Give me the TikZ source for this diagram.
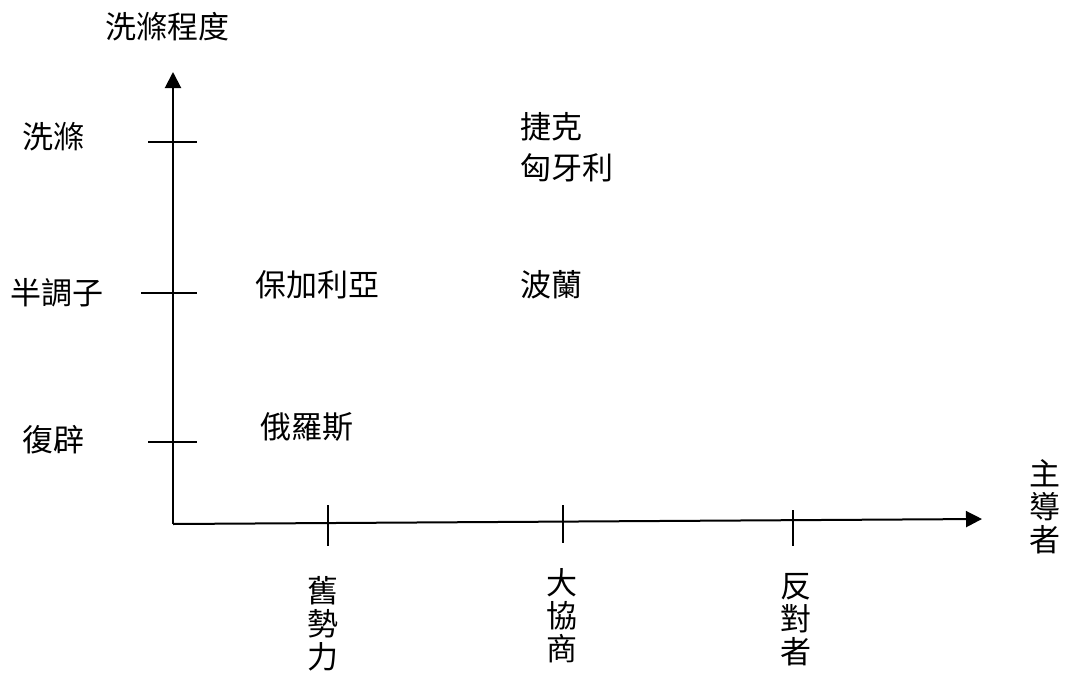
\documentclass[tikz,border=0pt]{standalone}
\usepackage{fontspec}
\newfontfamily\cjk{Noto Sans CJK TC}
\usetikzlibrary{arrows.meta}
\begin{document}
\begin{tikzpicture}[x=1pt,y=-1pt,
  lbl/.style={font=\cjk\fontsize{31}{33}\selectfont,inner sep=0pt,outer sep=0pt},
  vlbl/.style={lbl,align=center,anchor=north},
  axis/.style={line width=2pt,-{Triangle[width=16pt,length=16pt]}},
  tick/.style={line width=1.6pt}]
\useasboundingbox (0,0) rectangle (1066,675);
\coordinate (o) at (173,524);
\coordinate (ytip) at (173,72);
\coordinate (xtip) at (982,519);
\draw[axis] (o) -- (ytip);
\draw[axis] (o) -- (xtip);
% y ticks
\coordinate (t1a) at (148,142); \coordinate (t1b) at (197,142);
\coordinate (t2a) at (141,293); \coordinate (t2b) at (197,293);
\coordinate (t3a) at (148,442); \coordinate (t3b) at (197,442);
\draw[tick] (t1a) -- (t1b);
\draw[tick] (t2a) -- (t2b);
\draw[tick] (t3a) -- (t3b);
% x ticks
\coordinate (u1a) at (328,505); \coordinate (u1b) at (328,546);
\coordinate (u2a) at (563,505); \coordinate (u2b) at (563,543);
\coordinate (u3a) at (793,510); \coordinate (u3b) at (793,546);
\draw[tick] (u1a) -- (u1b);
\draw[tick] (u2a) -- (u2b);
\draw[tick] (u3a) -- (u3b);
% labels
\node[lbl,anchor=west] (title) at (105,27) {洗滌程度};
\node[lbl,anchor=west] (y1) at (23,137) {洗滌};
\node[lbl,anchor=west] (y2) at (10,293) {半調子};
\node[lbl,anchor=west] (y3) at (23,440) {復辟};
\node[lbl,anchor=west] (cz) at (520,127) {捷克};
\node[lbl,anchor=west] (hu) at (520,168) {匈牙利};
\node[lbl,anchor=west] (bg) at (255,285) {保加利亞};
\node[lbl,anchor=west] (pl) at (520,285) {波蘭};
\node[lbl,anchor=west] (ru) at (260,427) {俄羅斯};
\node[vlbl] (x1) at (323,576) {舊\\勢\\力};
\node[vlbl] (x2) at (562,568) {大\\協\\商};
\node[vlbl] (x3) at (796,573) {反\\對\\者};
\node[vlbl] (xl) at (1045,460) {主\\導\\者};
\end{tikzpicture}
\end{document}
